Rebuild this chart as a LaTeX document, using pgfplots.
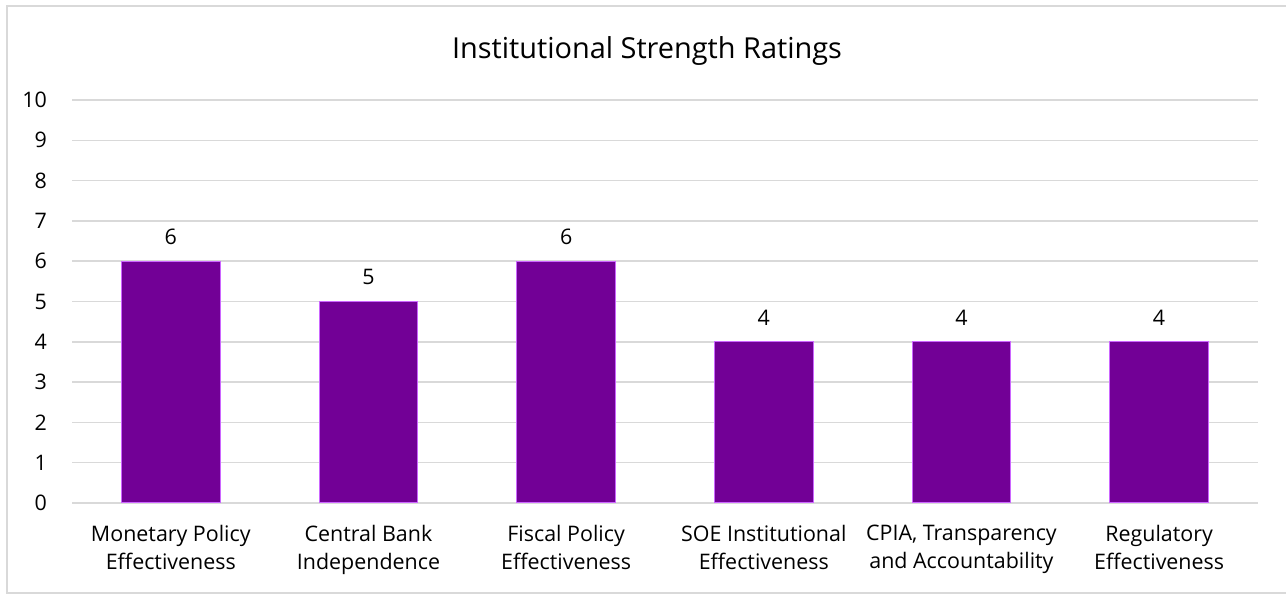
\documentclass[border=0pt]{standalone}
\usepackage{pgfplots}
\pgfplotsset{compat=1.18}
\usepackage{fontspec}
\setmainfont{Open Sans}
\definecolor{barfill}{RGB}{114,0,150}
\definecolor{baredge}{RGB}{204,102,255}
\definecolor{gridc}{RGB}{217,217,217}
\begin{document}
\begin{tikzpicture}[x=1bp,y=1bp]
\useasboundingbox (0,0) rectangle (1286,595);
\draw[gridc, line width=1.5bp] (7,2) rectangle (1300,589);
\node[font=\fontsize{29}{34}\selectfont] at (647,544) {Institutional Strength Ratings};
\begin{axis}[
  at={(72bp,92bp)}, anchor=south west,
  scale only axis, width=1186bp, height=403bp,
  xmin=-0.5, xmax=5.5, ymin=0, ymax=10,
  ytick={0,1,...,10}, xtick={0,1,2,3,4,5},
  xticklabels={{Monetary Policy\\Effectiveness},{Central Bank\\Independence},{Fiscal Policy\\Effectiveness},{SOE Institutional\\Effectiveness},{CPIA, Transparency\\and Accountability},{Regulatory\\Effectiveness}},
  ymajorgrids, grid style={gridc, line width=1.5bp},
  axis line style={draw=none},
  major tick length=0,
  /pgf/number format/assume math mode=true,
  tick label style={font=\fontsize{21.5}{28}\selectfont, text=black},
  yticklabel style={anchor=east, inner sep=0pt, xshift=-25bp},
  xticklabel style={align=center, anchor=north, inner sep=0pt, yshift=-22bp},
  ybar, bar width=0.5, bar shift=0pt,
  nodes near coords,
  every node near coord/.append style={font=\fontsize{21.5}{24}\selectfont, inner sep=0pt, yshift=16bp},
]
\addplot[fill=barfill, draw=baredge, line width=1bp] coordinates {(0,6) (1,5) (2,6) (3,4) (4,4) (5,4)};
\end{axis}
\end{tikzpicture}
\end{document}
